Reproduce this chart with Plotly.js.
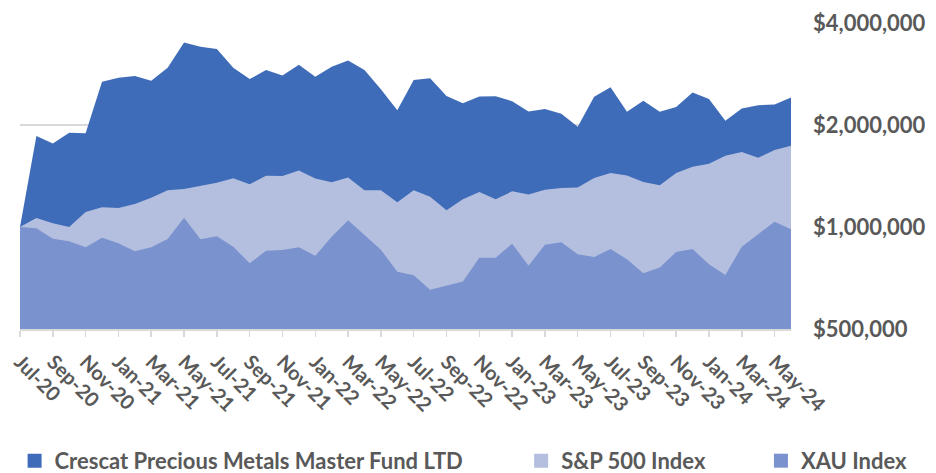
<!DOCTYPE html>
<html><head><meta charset="utf-8">
<script src="https://cdn.plot.ly/plotly-3.0.1.min.js"></script>
<style>html,body{margin:0;padding:0;background:#fff;}#chart{width:936px;height:473px;}</style>
</head><body><div id="chart"></div>
<script>
const months = ["Jul-20","Aug-20","Sep-20","Oct-20","Nov-20","Dec-20","Jan-21","Feb-21","Mar-21","Apr-21","May-21","Jun-21",
"Jul-21","Aug-21","Sep-21","Oct-21","Nov-21","Dec-21","Jan-22","Feb-22","Mar-22","Apr-22","May-22","Jun-22",
"Jul-22","Aug-22","Sep-22","Oct-22","Nov-22","Dec-22","Jan-23","Feb-23","Mar-23","Apr-23","May-23","Jun-23",
"Jul-23","Aug-23","Sep-23","Oct-23","Nov-23","Dec-23","Jan-24","Feb-24","Mar-24","Apr-24","May-24","Jun-24"];
const crescat = [1000000,1855000,1765000,1897000,1890000,2682000,2755000,2788000,2700000,2949000,3504000,3401000,
3355000,2949000,2732000,2904000,2801000,3014000,2774000,2969000,3101000,2904000,2548000,2212000,
2714000,2750000,2434000,2317000,2428000,2430000,2352000,2193000,2228000,2159000,1976000,2422000,
2587000,2188000,2357000,2188000,2259000,2495000,2385000,2058000,2239000,2289000,2300000,2412000];
const sp500 = [1000000,1063000,1025000,1000000,1107000,1143000,1138000,1169000,1220000,1283000,1294000,1324000,
1351000,1392000,1336000,1416000,1414000,1469000,1390000,1355000,1401000,1283000,1283000,1183000,
1283000,1228000,1120000,1207000,1268000,1207000,1274000,1248000,1288000,1303000,1309000,1395000,
1443000,1420000,1357000,1327000,1443000,1506000,1537000,1623000,1664000,1601000,1687000,1736000];
const xau = [1000000,991000,924000,908000,871000,930000,895000,848000,871000,922000,1065000,920000,
939000,875000,781000,851000,855000,871000,822000,936000,1047000,947000,857000,738000,
720000,653000,673000,690000,812000,812000,893000,769000,887000,901000,831000,816000,
861000,803000,730000,760000,844000,861000,776000,722000,875000,952000,1037000,984000];
const seriesNames = ["Crescat Precious Metals Master Fund LTD","S&P 500 Index","XAU Index"];
const colors = ["#3F6CB8","#B4BFDF","#7A92CE"];
const yTickVals = [500000,1000000,2000000,4000000];
const yTickText = ["$500,000","$1,000,000","$2,000,000","$4,000,000"];
const xTickVals = months.filter((m,i)=>i%2===0 && i<47);

const data = [crescat, sp500, xau].map((vals,k)=>({
  x: months, y: vals, type:'scatter', mode:'lines', fill:'tozeroy',
  fillcolor: colors[k], line:{width:0, color: colors[k]}, showlegend:false, hoverinfo:'skip'
}));
const legendIds = ['legend','legend2','legend3'];
seriesNames.forEach((n,k)=>{
  data.push({x:[null], y:[null], type:'scatter', mode:'markers', name:n,
    marker:{symbol:'square', size:14, color:colors[k]}, legend: legendIds[k], showlegend:true});
});
const legFont = {family:'Lato, "Open Sans", sans-serif', size:22, color:'#595959', weight:'bold'};
const mkLeg = (x)=>({x:x, y:-0.431, xanchor:'left', yanchor:'middle', orientation:'h',
  font:legFont, bgcolor:'rgba(0,0,0,0)', itemwidth:30});
const layout = {
  width:936, height:473,
  margin:{l:20, r:145, t:23, b:144, autoexpand:false},
  paper_bgcolor:'#fff', plot_bgcolor:'#fff',
  font:{family:'Lato, "Open Sans", sans-serif', color:'#595959'},
  xaxis:{type:'category', range:[0,47], tickvals:xTickVals, ticktext:xTickVals,
    tickangle:45, ticks:'outside', ticklen:6, tickcolor:'#D9D9D9', tickwidth:1.5,
    showline:true, linecolor:'#D9D9D9', linewidth:1.5, showgrid:false, zeroline:false,
    ticklabelstandoff:6,
    tickfont:{family:'Lato, sans-serif', size:20, color:'#595959', weight:'bold'}, automargin:false},
  yaxis:{type:'log', side:'right', range:[Math.log10(500000), Math.log10(4000000)],
    tickvals:yTickVals, ticktext:yTickText, showgrid:true, gridcolor:'#D9D9D9', gridwidth:1.5,
    ticks:'', ticklabelstandoff:21, zeroline:false, showline:false,
    tickfont:{family:'Lato, sans-serif', size:22, color:'#595959', weight:'bold'}, automargin:false},
  legend: mkLeg(-0.007), legend2: mkLeg(0.650), legend3: mkLeg(0.961),
  showlegend:true
};
Plotly.newPlot('chart', data, layout, {displayModeBar:false, staticPlot:true});
</script></body></html>
